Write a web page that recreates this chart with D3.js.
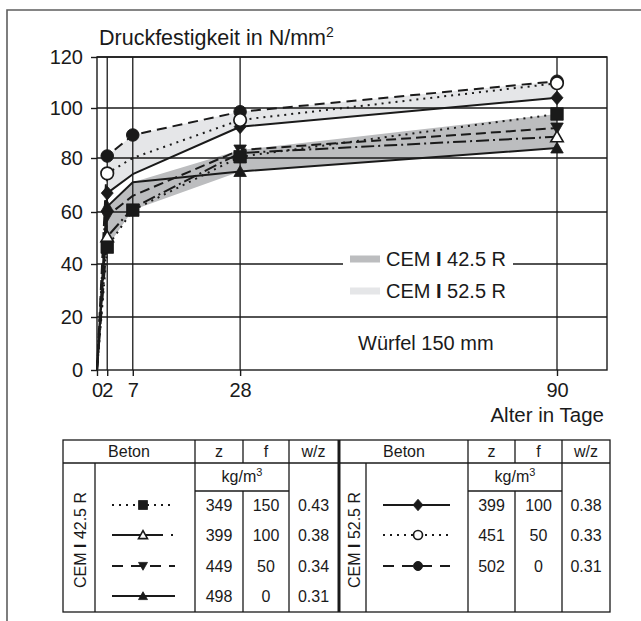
<!DOCTYPE html>
<html><head><meta charset="utf-8">
<script src="https://cdn.jsdelivr.net/npm/d3@7/dist/d3.min.js"></script>
<style>
html,body{margin:0;padding:0;background:#fff;}
text{font-family:"Liberation Sans",Arial,Helvetica,sans-serif;fill:#1a1a1a;}
</style></head>
<body>
<svg id="chart" width="641" height="621"></svg>
<script>
// ---------- DATA ----------
const days = [0, 2, 7, 28, 90];
const xTickValues = [0, 2, 7, 28, 90];
const yTickValues = [0, 20, 40, 60, 80, 100, 120];

// CEM I 42.5 R
const sq42   = [0, 46.5, 60.7, 80.5, 97.6];   // ■ dotted
const otri42 = [0, 50.5, 61.5, 82.0, 88.5];   // △ dash-dot
const itri42 = [0, 58.5, 66.0, 83.2, 92.0];   // ▼ dashed
const ftri42 = [0, 62.0, 71.0, 75.0, 84.0];   // ▲ solid
// CEM I 52.5 R
const dia52  = [0, 67.0, 74.0, 92.5, 104.0];  // ◆ solid
const ocir52 = [0, 74.3, 80.0, 95.2, 109.7];  // ○ dotted
const fcir52 = [0, 80.8, 89.2, 98.5, 110.5];  // ● dashed

// days on which a marker is drawn
const mk_sq42 = [2, 7, 28, 90];
const mk_otri42 = [2, 28, 90];
const mk_itri42 = [2, 28, 90];
const mk_ftri42 = [2, 28, 90];
const mk_dia52 = [2, 28, 90];
const mk_ocir52 = [2, 28, 90];
const mk_fcir52 = [2, 7, 28, 90];

// table
const z42 = [349, 399, 449, 498];
const f42 = [150, 100, 50, 0];
const wz42 = ["0.43", "0.38", "0.34", "0.31"];
const z52 = [399, 451, 502];
const f52 = [100, 50, 0];
const wz52 = ["0.38", "0.33", "0.31"];

const titleText = "Druckfestigkeit in N/mm";
const xLabel = "Alter in Tage";
const legendLabels = ["42.5 R", "52.5 R"];
const noteText = "Würfel 150 mm";

// ---------- STYLE ----------
const bandColor42 = "#bcbdbf";
const bandColor52 = "#e5e6e8";
const ink = "#1a1a1a";

const series = [
  {vals: sq42,   mk: mk_sq42,   shape: "square",  fill: ink,   dash: "2,5",        ldash: "2,5"},
  {vals: otri42, mk: mk_otri42, shape: "tri",     fill: "#fff",dash: "13,4,2,4",   ldash: "51,8,2,30"},
  {vals: itri42, mk: mk_itri42, shape: "itri",    fill: ink,   dash: "10,5",       ldash: "11,8"},
  {vals: ftri42, mk: mk_ftri42, shape: "tri",     fill: ink,   dash: null,         ldash: null},
  {vals: fcir52, mk: mk_fcir52, shape: "circle",  fill: ink,   dash: "10,6",       ldash: "11,8"},
  {vals: dia52,  mk: mk_dia52,  shape: "diamond", fill: ink,   dash: null,         ldash: null},
  {vals: ocir52, mk: mk_ocir52, shape: "circle",  fill: "#fff",dash: "2,5",        ldash: "2,5"}
];

// ---------- LAYOUT ----------
const svg = d3.select("#chart");
svg.append("rect").attr("width",641).attr("height",621).attr("fill","#fff");

// outer frame (left + top)
svg.append("path").attr("d","M7,621V10H641").attr("fill","none")
  .attr("stroke","#5e5e5e").attr("stroke-width",1.6);

const L = 97, R = 607, T = 57, B = 370;
const x = d3.scaleLinear().domain([0, 90]).range([L, 557]);
const y = d3.scaleLinear().domain(yTickValues).range([370, 317, 264, 212, 158, 108, 57]);

// bands
function band(group){
  const pts = days.map((d,i)=>({d, lo: d3.min(group, s=>s[i]), hi: d3.max(group, s=>s[i])})).filter(p=>p.d>0);
  return d3.area().x(p=>x(p.d)).y0(p=>y(p.lo)).y1(p=>y(p.hi))(pts);
}
svg.append("path").attr("d", band([sq42, otri42, itri42, ftri42])).attr("fill", bandColor42);
svg.append("path").attr("d", band([dia52, ocir52, fcir52])).attr("fill", bandColor52);

// grid
const grid = svg.append("g").attr("stroke", ink).attr("stroke-width",1.3);
grid.selectAll(".h").data(yTickValues.filter(v=>v>0)).join("line")
  .attr("x1",L).attr("x2",R).attr("y1",d=>y(d)).attr("y2",d=>y(d));
grid.selectAll(".v").data(xTickValues.filter(v=>v>0)).join("line")
  .attr("x1",d=>x(d)).attr("x2",d=>x(d)).attr("y1",T).attr("y2",B);
svg.append("rect").attr("x",L).attr("y",T).attr("width",R-L).attr("height",B-T)
  .attr("fill","none").attr("stroke",ink).attr("stroke-width",1.4);

// axes
const yAxis = svg.append("g").attr("transform",`translate(${L},0)`)
  .call(d3.axisLeft(y).tickValues(yTickValues).tickSize(6).tickPadding(8).tickFormat(d3.format("d")));
const xAxis = svg.append("g").attr("transform",`translate(0,${B})`)
  .call(d3.axisBottom(x).tickValues(xTickValues).tickSize(6).tickPadding(7).tickFormat(d3.format("d")));
[yAxis, xAxis].forEach(a=>{
  a.select(".domain").remove();
  a.selectAll("line").attr("stroke",ink).attr("stroke-width",1.4);
  a.selectAll("text").attr("font-size",20).attr("fill",ink)
    .attr("font-family",'"Liberation Sans",Arial,sans-serif');
});

// title & axis label
const title = svg.append("text").attr("x",99).attr("y",45).attr("font-size",21.5);
title.append("tspan").text(titleText);
title.append("tspan").attr("font-size",14).attr("dy",-8).text("2");
svg.append("text").attr("x",604).attr("y",422).attr("text-anchor","end").attr("font-size",20.5).text(xLabel);

// legend inside plot
svg.append("rect").attr("x",343).attr("y",250).attr("width",170).attr("height",22).attr("fill","#fff");
[[bandColor42, 259, legendLabels[0]],[bandColor52, 291, legendLabels[1]]].forEach(([c,yy,lab])=>{
  svg.append("rect").attr("x",350).attr("y",yy-3.5).attr("width",30).attr("height",7).attr("fill",c);
  const t = svg.append("text").attr("x",386).attr("y",yy+7).attr("font-size",20);
  t.append("tspan").text("CEM ");
  t.append("tspan").attr("font-weight","bold").text("I");
  t.append("tspan").text(" " + lab);
});
svg.append("text").attr("x",358).attr("y",350).attr("font-size",20).text(noteText);

// marker shapes
function shapePath(shape, s){
  const h = s/2;
  switch(shape){
    case "square": return `M${-h},${-h}H${h}V${h}H${-h}Z`;
    case "tri": return `M0,${-h*0.95}L${h},${h*0.8}L${-h},${h*0.8}Z`;
    case "itri": return `M0,${h*0.95}L${h},${-h*0.8}L${-h},${-h*0.8}Z`;
    case "diamond": return `M0,${-h*1.15}L${h},0L0,${h*1.15}L${-h},0Z`;
  }
}
function drawMarker(g, shape, fill, cx, cy, s){
  if(shape==="circle"){
    g.append("circle").attr("cx",cx).attr("cy",cy).attr("r",s/2)
      .attr("fill",fill).attr("stroke",ink).attr("stroke-width",fill==="#fff"?1.7:1);
  } else {
    g.append("path").attr("d",shapePath(shape,s)).attr("transform",`translate(${cx},${cy})`)
      .attr("fill",fill).attr("stroke",ink).attr("stroke-width",fill==="#fff"?1.6:0.8)
      .attr("stroke-linejoin","miter");
  }
}

// series lines
const line = d3.line().x(p=>x(p.d)).y(p=>y(p.v));
const lines = svg.append("g");
series.forEach(s=>{
  const pts = days.map((d,i)=>({d, v: s.vals[i]}));
  lines.append("path").attr("d",line(pts)).attr("fill","none").attr("stroke",ink)
    .attr("stroke-width",2).attr("stroke-dasharray",s.dash).attr("stroke-linejoin","round");
});
// markers
const marks = svg.append("g");
const order = [3,2,1,0,4,5,6];
order.forEach(k=>{
  const s = series[k];
  s.mk.forEach(d=>{
    const i = days.indexOf(d);
    drawMarker(marks, s.shape, s.fill, x(d), y(s.vals[i]), s.shape==="diamond"?12:(s.shape==="circle"?12.5:12.5));
  });
});

// ---------- TABLE ----------
const tb = svg.append("g").attr("stroke",ink).attr("stroke-width",1.3).attr("fill","none");
const tTop = 440, tHead = 463, tKg = 491, tBot = 612;
const rowY = [505, 535, 566, 596];
function hl(x1,x2,yy,w){ tb.append("line").attr("x1",x1).attr("x2",x2).attr("y1",yy).attr("y2",yy).attr("stroke-width",w||1.3); }
function vl(xx,y1,y2,w){ tb.append("line").attr("x1",xx).attr("x2",xx).attr("y1",y1).attr("y2",y2).attr("stroke-width",w||1.3); }
tb.append("rect").attr("x",63).attr("y",tTop).attr("width",610-63).attr("height",tBot-tTop);
hl(63,610,tHead);
const blocks = [
  {lab:63, bet:95, z:195, f:243, wz:289, end:338, zs:z42, fs:f42, wzs:wz42, cem:legendLabels[0], ser:[0,1,2,3], lx1:112, lx2:175, mx:143},
  {lab:340, bet:366, z:468, f:515, wz:562, end:610, zs:z52, fs:f52, wzs:wz52, cem:legendLabels[1], ser:[5,6,4], lx1:383, lx2:450, mx:418}
];
vl(339, tTop, tBot, 3);
const tt = svg.append("g").attr("font-size",16).attr("text-anchor","middle");
blocks.forEach(b=>{
  vl(b.bet, tHead, tBot);
  vl(b.z, tTop, tBot);
  vl(b.f, tTop, tHead); vl(b.f, tKg, tBot);
  vl(b.wz, tTop, tBot);
  hl(b.z, b.wz, tKg);
  tt.append("text").attr("x",(b.lab+b.z)/2).attr("y",tHead-6).text("Beton");
  tt.append("text").attr("x",(b.z+b.f)/2).attr("y",tHead-6).text("z");
  tt.append("text").attr("x",(b.f+b.wz)/2).attr("y",tHead-6).text("f");
  tt.append("text").attr("x",(b.wz+b.end)/2).attr("y",tHead-6).text("w/z");
  const kg = tt.append("text").attr("x",(b.z+b.wz)/2).attr("y",tKg-9);
  kg.append("tspan").text("kg/m");
  kg.append("tspan").attr("font-size",11).attr("dy",-6).text("3");
  const cx = (b.lab+b.bet)/2+1, cy = 540;
  const ct = tt.append("text").attr("transform",`translate(${cx},${cy}) rotate(-90)`).attr("dy","0.36em");
  ct.append("tspan").text("CEM ");
  ct.append("tspan").attr("font-weight","bold").text("I");
  ct.append("tspan").text(" " + b.cem);
  b.zs.forEach((v,i)=>{
    tt.append("text").attr("x",(b.z+b.f)/2).attr("y",rowY[i]).attr("dy","0.36em").text(v);
    tt.append("text").attr("x",(b.f+b.wz)/2).attr("y",rowY[i]).attr("dy","0.36em").text(b.fs[i]);
    tt.append("text").attr("x",(b.wz+b.end)/2).attr("y",rowY[i]).attr("dy","0.36em").text(b.wzs[i]);
    const s = series[b.ser[i]];
    svg.append("line").attr("x1",b.lx1).attr("x2",b.lx2).attr("y1",rowY[i]).attr("y2",rowY[i])
      .attr("stroke",ink).attr("stroke-width",2).attr("stroke-dasharray",s.ldash);
    drawMarker(svg, s.shape, s.fill, b.mx, rowY[i], s.shape==="circle"?9:(s.shape==="diamond"?10:9));
  });
});
</script>
</body></html>
